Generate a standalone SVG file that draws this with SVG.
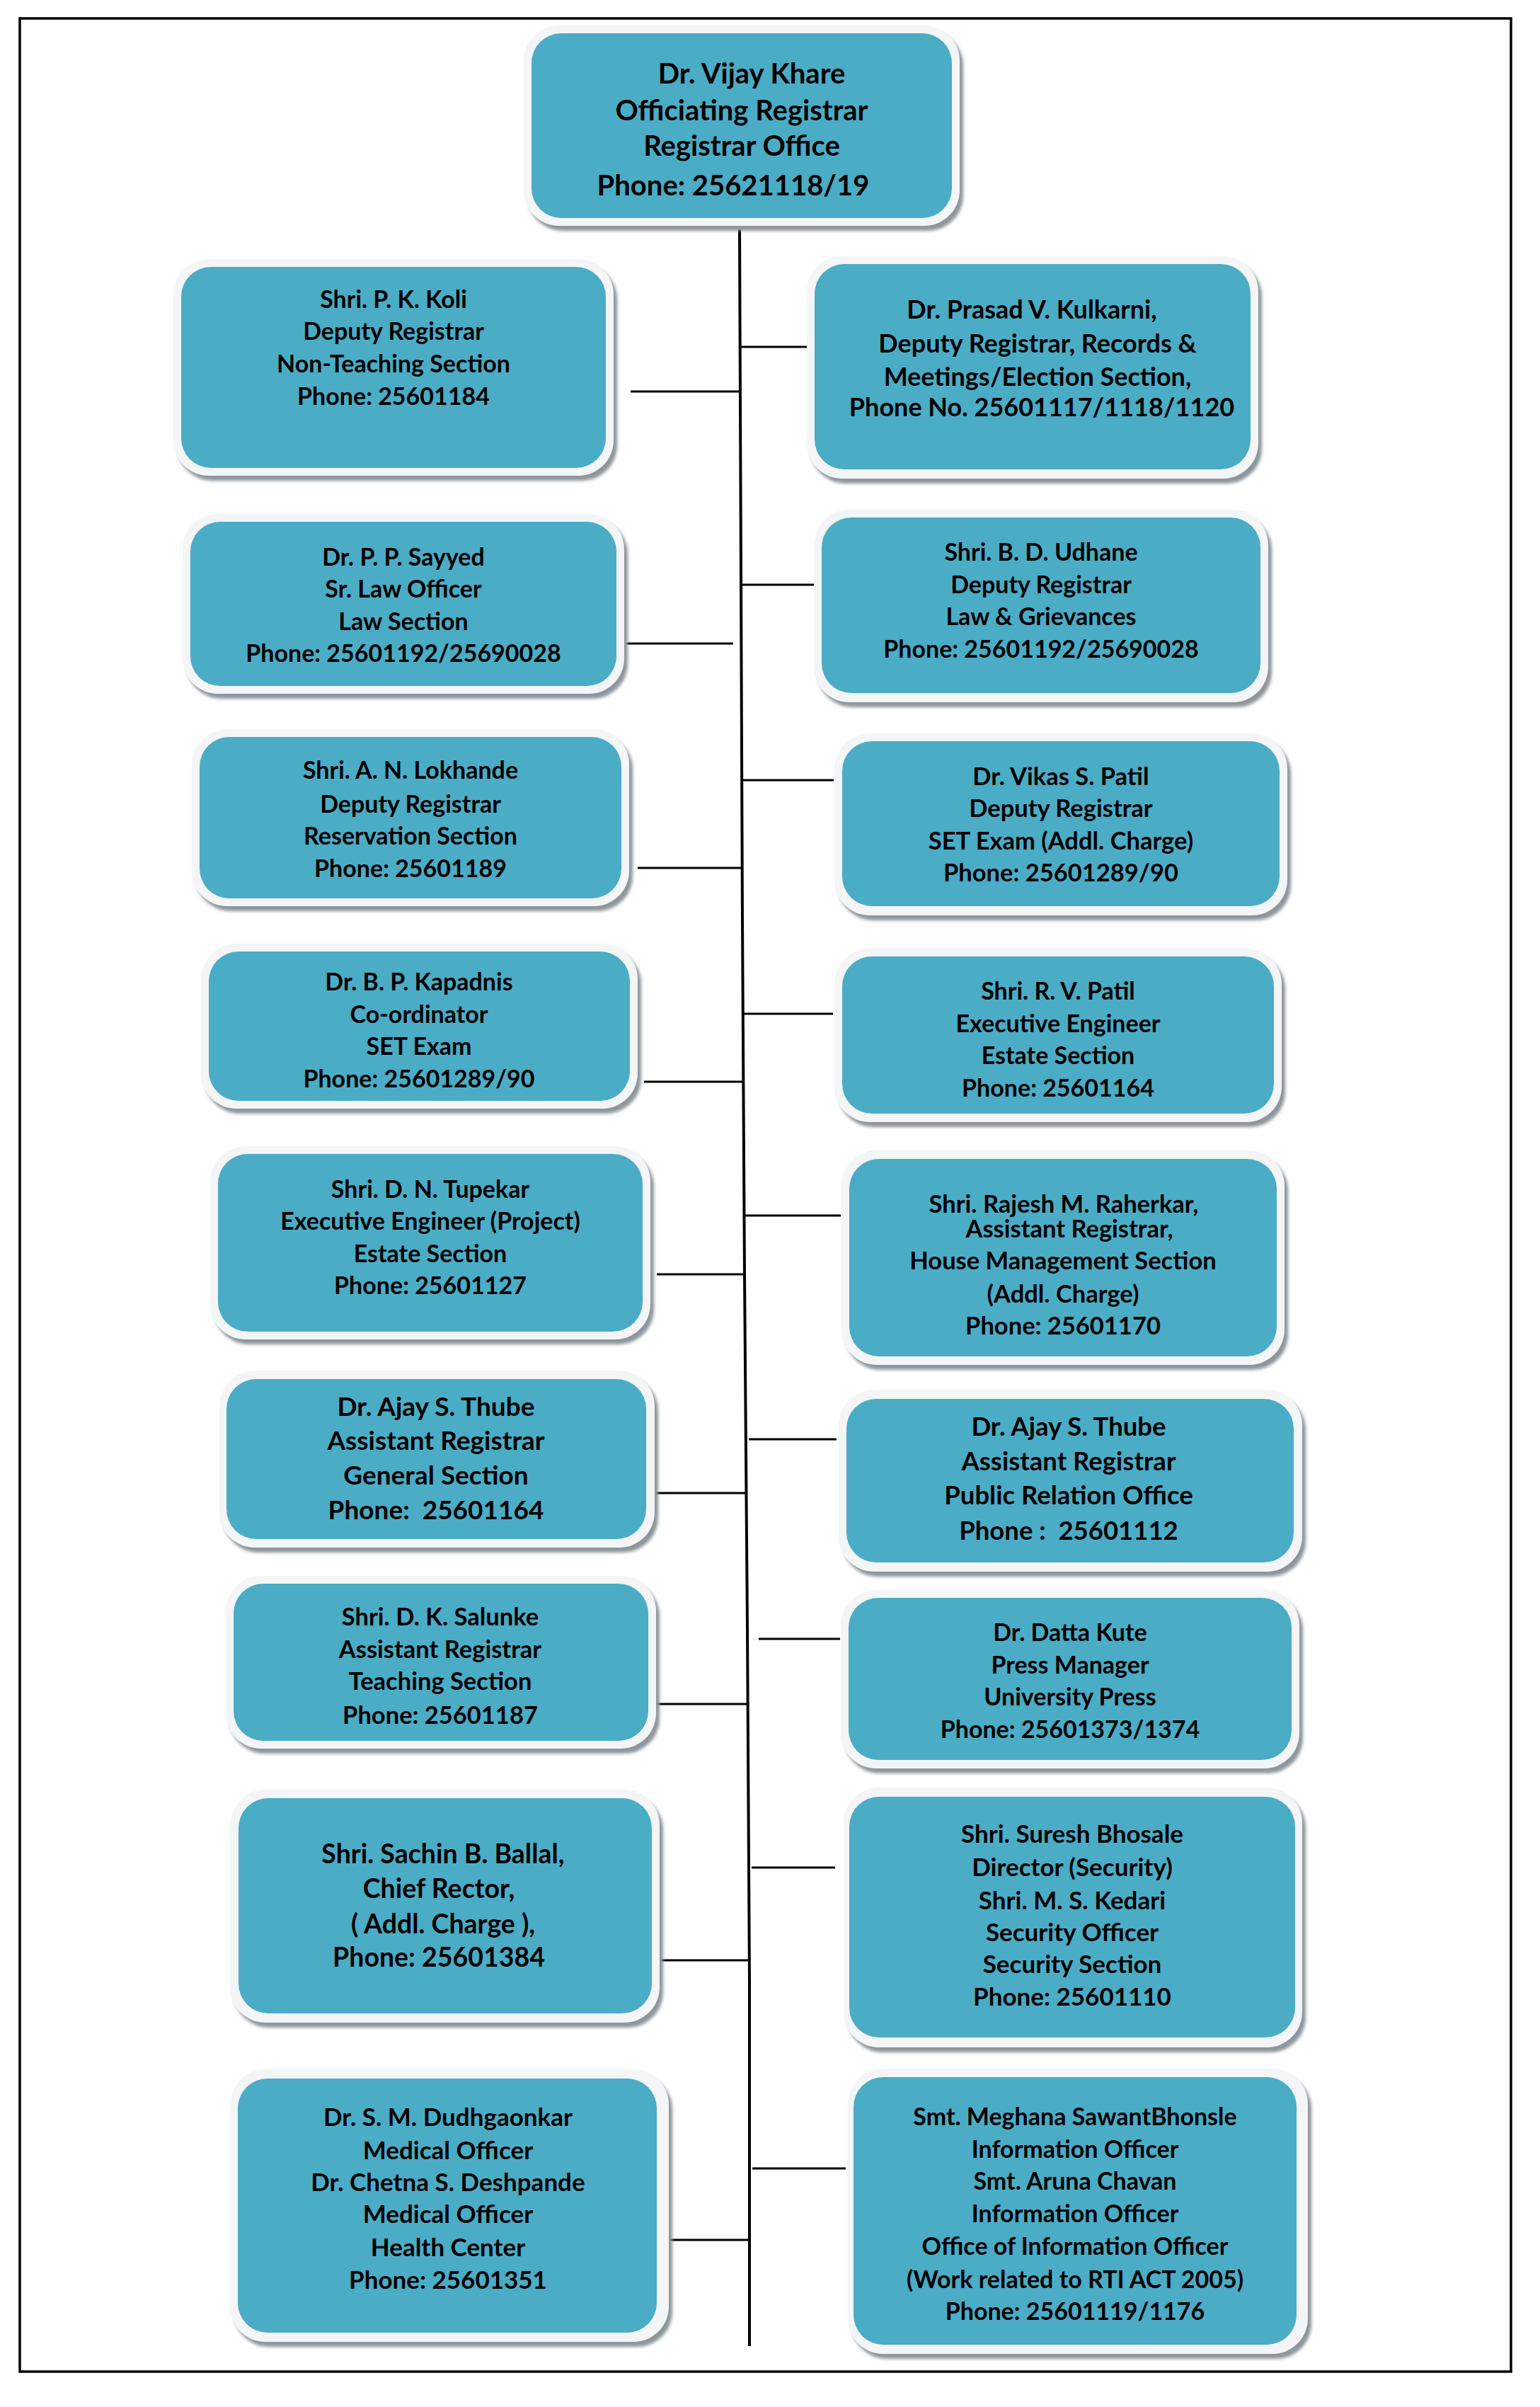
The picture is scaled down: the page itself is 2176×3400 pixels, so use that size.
<svg xmlns="http://www.w3.org/2000/svg" width="2176" height="3400" viewBox="0 0 2176 3400">
<defs>
<filter id="blur" x="-5%" y="-5%" width="110%" height="115%"><feGaussianBlur stdDeviation="2"/></filter>
<style>
.sh{fill:#8c969b;filter:url(#blur)}
.bd{fill:#f3f5f6}
.tl{fill:#4bacc6}
.t{font-family:Lato,"Open Sans","Liberation Sans",sans-serif;font-weight:700;fill:#000;text-anchor:middle;white-space:pre}
.c{stroke:#000;stroke-width:3;fill:none}
.v{stroke:#000;stroke-width:4;fill:none}
.fr{stroke:#000;stroke-width:3.5;fill:none}
</style>
</defs>
<rect width="2176" height="3400" fill="#fff"/>
<rect class="fr" x="28" y="26" width="2107" height="3324"/>

<g id="connectors">
<polyline class="v" points="1045,324 1049,1300 1052,1800 1056,2300 1059,2800 1059,3314"/>
<line class="c" x1="891" y1="553" x2="1046" y2="553"/>
<line class="c" x1="1047" y1="490" x2="1140" y2="490"/>
<line class="c" x1="885" y1="909" x2="1036" y2="909"/>
<line class="c" x1="1048" y1="826" x2="1157" y2="826"/>
<line class="c" x1="901" y1="1226" x2="1047" y2="1226"/>
<line class="c" x1="1050" y1="1102" x2="1178" y2="1102"/>
<line class="c" x1="910" y1="1528" x2="1050" y2="1528"/>
<line class="c" x1="1050" y1="1432" x2="1177" y2="1432"/>
<line class="c" x1="928" y1="1800" x2="1051" y2="1800"/>
<line class="c" x1="1052" y1="1717" x2="1188" y2="1717"/>
<line class="c" x1="926" y1="2109" x2="1054" y2="2109"/>
<line class="c" x1="1058" y1="2033" x2="1182" y2="2033"/>
<line class="c" x1="927" y1="2407" x2="1056" y2="2407"/>
<line class="c" x1="1072" y1="2315" x2="1187" y2="2315"/>
<line class="c" x1="932" y1="2769" x2="1059" y2="2769"/>
<line class="c" x1="1062" y1="2638" x2="1180" y2="2638"/>
<line class="c" x1="945" y1="3164" x2="1059" y2="3164"/>
<line class="c" x1="1063" y1="3063" x2="1195" y2="3063"/>
</g>

<g id="n-top">
<rect class="sh" x="745" y="43" width="616" height="283" rx="50"/>
<rect class="bd" x="740" y="36" width="616" height="283" rx="50"/>
<rect class="tl" x="751" y="47" width="594" height="261" rx="42"/>
<text class="t" style="font-size:40px"><tspan x="1062" y="118">Dr. Vijay Khare</tspan><tspan x="1048" y="170">Officiating Registrar</tspan><tspan x="1048" y="220">Registrar Office</tspan><tspan x="1036" y="276">Phone: 25621118/19</tspan></text>
</g>

<g id="n-l1">
<rect class="sh" x="250" y="373" width="622" height="306" rx="50"/>
<rect class="bd" x="245" y="366" width="622" height="306" rx="50"/>
<rect class="tl" x="256" y="377" width="600" height="284" rx="42"/>
<text class="t" style="font-size:34px"><tspan x="556" y="435">Shri. P. K. Koli</tspan><tspan x="556" y="480">Deputy Registrar</tspan><tspan x="556" y="526">Non-Teaching Section</tspan><tspan x="556" y="572">Phone: 25601184</tspan></text>
</g>

<g id="n-l2">
<rect class="sh" x="263" y="733" width="624" height="254" rx="50"/>
<rect class="bd" x="258" y="726" width="624" height="254" rx="50"/>
<rect class="tl" x="269" y="737" width="602" height="232" rx="42"/>
<text class="t" style="font-size:34px"><tspan x="570" y="799">Dr. P. P. Sayyed</tspan><tspan x="570" y="844">Sr. Law Officer</tspan><tspan x="570" y="890">Law Section</tspan><tspan x="570" y="935">Phone: 25601192/25690028</tspan></text>
</g>

<g id="n-l3">
<rect class="sh" x="276" y="1037" width="618" height="250" rx="50"/>
<rect class="bd" x="271" y="1030" width="618" height="250" rx="50"/>
<rect class="tl" x="282" y="1041" width="596" height="228" rx="42"/>
<text class="t" style="font-size:34px"><tspan x="580" y="1100">Shri. A. N. Lokhande</tspan><tspan x="580" y="1148">Deputy Registrar</tspan><tspan x="580" y="1193">Reservation Section</tspan><tspan x="580" y="1239">Phone: 25601189</tspan></text>
</g>

<g id="n-l4">
<rect class="sh" x="289" y="1340" width="617" height="233" rx="50"/>
<rect class="bd" x="284" y="1333" width="617" height="233" rx="50"/>
<rect class="tl" x="295" y="1344" width="595" height="211" rx="42"/>
<text class="t" style="font-size:34px"><tspan x="592" y="1399">Dr. B. P. Kapadnis</tspan><tspan x="592" y="1445">Co-ordinator</tspan><tspan x="592" y="1490">SET Exam</tspan><tspan x="592" y="1536">Phone: 25601289/90</tspan></text>
</g>

<g id="n-l5">
<rect class="sh" x="302" y="1626" width="622" height="273" rx="50"/>
<rect class="bd" x="297" y="1619" width="622" height="273" rx="50"/>
<rect class="tl" x="308" y="1630" width="600" height="251" rx="42"/>
<text class="t" style="font-size:34px"><tspan x="608" y="1692">Shri. D. N. Tupekar</tspan><tspan x="608" y="1737">Executive Engineer (Project)</tspan><tspan x="608" y="1783">Estate Section</tspan><tspan x="608" y="1828">Phone: 25601127</tspan></text>
</g>

<g id="n-l6">
<rect class="sh" x="315" y="1943" width="615" height="250" rx="50"/>
<rect class="bd" x="310" y="1936" width="615" height="250" rx="50"/>
<rect class="tl" x="320" y="1948" width="593" height="226" rx="42"/>
<text class="t" style="font-size:37px"><tspan x="616" y="2000">Dr. Ajay S. Thube</tspan><tspan x="616" y="2048">Assistant Registrar</tspan><tspan x="616" y="2097">General Section</tspan><tspan x="616" y="2146">Phone:  25601164</tspan></text>
</g>

<g id="n-l7">
<rect class="sh" x="324" y="2233" width="608" height="244" rx="50"/>
<rect class="bd" x="319" y="2226" width="608" height="244" rx="50"/>
<rect class="tl" x="330" y="2237" width="586" height="222" rx="42"/>
<text class="t" style="font-size:34.5px"><tspan x="622" y="2296">Shri. D. K. Salunke</tspan><tspan x="622" y="2342">Assistant Registrar</tspan><tspan x="622" y="2387">Teaching Section</tspan><tspan x="622" y="2435">Phone: 25601187</tspan></text>
</g>

<g id="n-l8">
<rect class="sh" x="330" y="2535" width="607" height="329" rx="50"/>
<rect class="bd" x="325" y="2528" width="607" height="329" rx="50"/>
<rect class="tl" x="337" y="2540" width="584" height="304" rx="42"/>
<text class="t" style="font-size:37.5px"><tspan x="626" y="2632">Shri. Sachin B. Ballal,</tspan><tspan x="620" y="2681">Chief Rector,</tspan><tspan x="626" y="2731">( Addl. Charge ),</tspan><tspan x="620" y="2778">Phone: 25601384</tspan></text>
</g>

<g id="n-l9">
<rect class="sh" x="330" y="2930" width="620" height="385" rx="50"/>
<rect class="bd" x="325" y="2923" width="620" height="385" rx="50"/>
<rect class="tl" x="336" y="2936" width="592" height="359" rx="42"/>
<text class="t" style="font-size:35px"><tspan x="633" y="3003">Dr. S. M. Dudhgaonkar</tspan><tspan x="633" y="3050">Medical Officer</tspan><tspan x="633" y="3095">Dr. Chetna S. Deshpande</tspan><tspan x="633" y="3140">Medical Officer</tspan><tspan x="633" y="3187">Health Center</tspan><tspan x="633" y="3233">Phone: 25601351</tspan></text>
</g>

<g id="n-r1">
<rect class="sh" x="1145" y="369" width="638" height="314" rx="50"/>
<rect class="bd" x="1140" y="362" width="638" height="314" rx="50"/>
<rect class="tl" x="1151" y="373" width="616" height="290" rx="42"/>
<text class="t" style="font-size:36px"><tspan x="1458" y="450">Dr. Prasad V. Kulkarni,</tspan><tspan x="1466" y="498">Deputy Registrar, Records &amp;</tspan><tspan x="1466" y="545">Meetings/Election Section,</tspan><tspan x="1472" y="588">Phone No. 25601117/1118/1120</tspan></text>
</g>

<g id="n-r2">
<rect class="sh" x="1155" y="727" width="642" height="272" rx="50"/>
<rect class="bd" x="1150" y="720" width="642" height="272" rx="50"/>
<rect class="tl" x="1161" y="731" width="620" height="248" rx="42"/>
<text class="t" style="font-size:34px"><tspan x="1471" y="792">Shri. B. D. Udhane</tspan><tspan x="1471" y="838">Deputy Registrar</tspan><tspan x="1471" y="883">Law &amp; Grievances</tspan><tspan x="1471" y="929">Phone: 25601192/25690028</tspan></text>
</g>

<g id="n-r3">
<rect class="sh" x="1184" y="1043" width="640" height="257" rx="50"/>
<rect class="bd" x="1179" y="1036" width="640" height="257" rx="50"/>
<rect class="tl" x="1190" y="1047" width="618" height="233" rx="42"/>
<text class="t" style="font-size:34.5px"><tspan x="1499" y="1109">Dr. Vikas S. Patil</tspan><tspan x="1499" y="1154">Deputy Registrar</tspan><tspan x="1499" y="1200">SET Exam (Addl. Charge)</tspan><tspan x="1499" y="1245">Phone: 25601289/90</tspan></text>
</g>

<g id="n-r4">
<rect class="sh" x="1184" y="1347" width="632" height="245" rx="50"/>
<rect class="bd" x="1179" y="1340" width="632" height="245" rx="50"/>
<rect class="tl" x="1190" y="1351" width="610" height="222" rx="42"/>
<text class="t" style="font-size:34px"><tspan x="1495" y="1412">Shri. R. V. Patil</tspan><tspan x="1495" y="1458">Executive Engineer</tspan><tspan x="1495" y="1503">Estate Section</tspan><tspan x="1495" y="1549">Phone: 25601164</tspan></text>
</g>

<g id="n-r5">
<rect class="sh" x="1194" y="1632" width="626" height="303" rx="50"/>
<rect class="bd" x="1189" y="1625" width="626" height="303" rx="50"/>
<rect class="tl" x="1200" y="1637" width="604" height="279" rx="42"/>
<text class="t" style="font-size:34.5px"><tspan x="1503" y="1713">Shri. Rajesh M. Raherkar,</tspan><tspan x="1511" y="1748">Assistant Registrar,</tspan><tspan x="1502" y="1793">House Management Section</tspan><tspan x="1502" y="1840">(Addl. Charge)</tspan><tspan x="1502" y="1885">Phone: 25601170</tspan></text>
</g>

<g id="n-r6">
<rect class="sh" x="1190" y="1970" width="655" height="257" rx="50"/>
<rect class="bd" x="1185" y="1963" width="655" height="257" rx="50"/>
<rect class="tl" x="1196" y="1976" width="632" height="231" rx="42"/>
<text class="t" style="font-size:36.5px"><tspan x="1510" y="2028">Dr. Ajay S. Thube</tspan><tspan x="1510" y="2077">Assistant Registrar</tspan><tspan x="1510" y="2125">Public Relation Office</tspan><tspan x="1510" y="2175">Phone :  25601112</tspan></text>
</g>

<g id="n-r7">
<rect class="sh" x="1193" y="2253" width="648" height="252" rx="50"/>
<rect class="bd" x="1188" y="2246" width="648" height="252" rx="50"/>
<rect class="tl" x="1199" y="2257" width="626" height="229" rx="42"/>
<text class="t" style="font-size:34px"><tspan x="1512" y="2318">Dr. Datta Kute</tspan><tspan x="1512" y="2364">Press Manager</tspan><tspan x="1512" y="2409">University Press</tspan><tspan x="1512" y="2455">Phone: 25601373/1374</tspan></text>
</g>

<g id="n-r8">
<rect class="sh" x="1197" y="2532" width="648" height="367" rx="50"/>
<rect class="bd" x="1192" y="2525" width="648" height="367" rx="50"/>
<rect class="tl" x="1200" y="2538" width="630" height="340" rx="42"/>
<text class="t" style="font-size:35px"><tspan x="1515" y="2603">Shri. Suresh Bhosale</tspan><tspan x="1515" y="2650">Director (Security)</tspan><tspan x="1515" y="2697">Shri. M. S. Kedari</tspan><tspan x="1515" y="2742">Security Officer</tspan><tspan x="1515" y="2787">Security Section</tspan><tspan x="1515" y="2833">Phone: 25601110</tspan></text>
</g>

<g id="n-r9">
<rect class="sh" x="1203" y="2929" width="650" height="403" rx="50"/>
<rect class="bd" x="1198" y="2922" width="650" height="403" rx="50"/>
<rect class="tl" x="1206" y="2934" width="626" height="378" rx="42"/>
<text class="t" style="font-size:34px"><tspan x="1519" y="3002">Smt. Meghana SawantBhonsle</tspan><tspan x="1519" y="3048">Information Officer</tspan><tspan x="1519" y="3093">Smt. Aruna Chavan</tspan><tspan x="1519" y="3139">Information Officer</tspan><tspan x="1519" y="3185">Office of Information Officer</tspan><tspan x="1519" y="3232">(Work related to RTI ACT 2005)</tspan><tspan x="1519" y="3277">Phone: 25601119/1176</tspan></text>
</g>
</svg>
